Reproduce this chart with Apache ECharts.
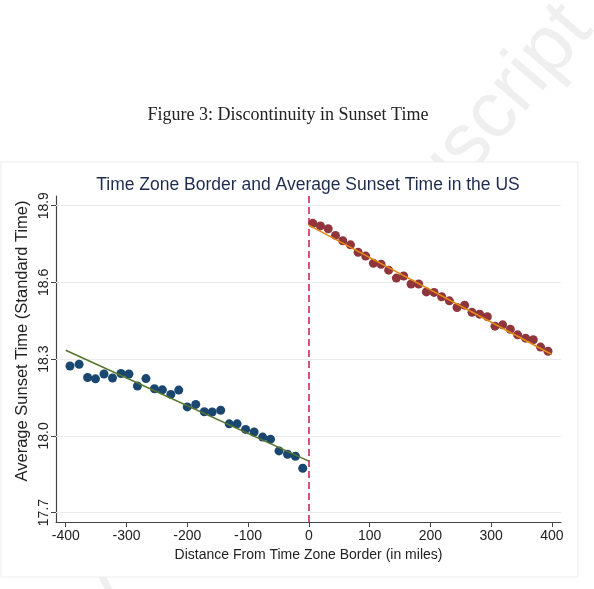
<!DOCTYPE html>
<html>
<head>
<meta charset="utf-8">
<title>Discontinuity in Sunset Time</title>
<script src="https://cdn.jsdelivr.net/npm/echarts@6/dist/echarts.min.js"></script>
<style>
  html, body { margin: 0; padding: 0; background: #fff; }
  #chart { width: 594px; height: 589px; }
</style>
</head>
<body>
<div id="chart"></div>
<script>
// tick labels
const xTicks = [-400, -300, -200, -100, 0, 100, 200, 300, 400]
const yTicks = [17.7, 18.0, 18.3, 18.6, 18.9]

// west of the border (binned means)
const westDist = [-393, -378, -364, -351, -337, -323, -309, -296, -282, -268, -254, -241, -227, -214, -200,
  -186, -172, -159, -145, -131, -118, -104, -90, -76, -63, -49, -35, -22, -10]
const westSunset = [18.273, 18.280, 18.228, 18.223, 18.242, 18.226, 18.244, 18.242, 18.195, 18.224,
  18.184, 18.180, 18.162, 18.179, 18.113, 18.123, 18.094, 18.093, 18.100, 18.047,
  18.047, 18.025, 18.015, 17.995, 17.987, 17.941, 17.928, 17.920, 17.873]

// east of the border
const eastDist = [6.6, 19.2, 31.9, 43.9, 55.9, 68.6, 81.1, 93.6, 106.3, 118.9, 131.4, 144.1, 156.1, 168.3,
  180.8, 193.4, 206.1, 218.6, 231.3, 243.9, 256.4, 268.5, 281.1, 293.8, 306.4, 318.9,
  331.6, 343.6, 356.8, 369.4, 381.4, 393.6]
const eastSunset = [18.831, 18.821, 18.810, 18.784, 18.763, 18.747, 18.718, 18.703, 18.675, 18.671,
  18.648, 18.617, 18.625, 18.594, 18.594, 18.563, 18.561, 18.544, 18.528, 18.502,
  18.511, 18.483, 18.476, 18.466, 18.429, 18.434, 18.417, 18.395, 18.382, 18.376,
  18.347, 18.331]

// linear fits (end points)
const westFitX = [-400, 0]
const westFitY = [18.335, 17.901]
const eastFitX = [0, 400]
const eastFitY = [18.824, 18.318]

const font = "'Liberation Sans', Arial, sans-serif"
const zip = (xs, ys) => xs.map((x, i) => [x, ys[i]])

const chart = echarts.init(document.getElementById("chart"))

chart.setOption({
  backgroundColor: "#fff",
  animation: false,
  textStyle: { fontFamily: font },
  grid: { left: 56, right: 33, top: 196, bottom: 67, containLabel: false },
  graphic: [
    // watermark
    {
      type: "text", x: 335, y: 300, rotation: 49.5 * Math.PI / 180, z: -10,
      style: {
        text: "Accepted Manuscript", fill: "#efefef", font: "80px " + font,
        textAlign: "center", textVerticalAlign: "middle"
      }
    },
    // frame
    {
      type: "rect", shape: { x: 1, y: 162, width: 577, height: 415 }, z: -5,
      style: { fill: "#fff", stroke: "#ededed", lineWidth: 1 }
    },
    {
      type: "text", x: 288, y: 115,
      style: {
        text: "Figure 3: Discontinuity in Sunset Time", fill: "#222",
        font: "18px 'Liberation Serif', 'DejaVu Serif', serif",
        textAlign: "center", textVerticalAlign: "middle"
      }
    },
    {
      type: "text", x: 308, y: 185,
      style: {
        text: "Time Zone Border and Average Sunset Time in the US", fill: "#1d2b4f",
        font: "17.5px " + font, textAlign: "center", textVerticalAlign: "middle"
      }
    },
    {
      type: "text", x: 22, y: 341, rotation: Math.PI / 2,
      style: {
        text: "Average Sunset Time (Standard Time)", fill: "#222",
        font: "16.5px " + font, textAlign: "center", textVerticalAlign: "middle"
      }
    }
  ],
  xAxis: {
    type: "value",
    min: -416,
    max: 415,
    name: "Distance From Time Zone Border (in miles)",
    nameLocation: "middle",
    nameGap: 21,
    nameTextStyle: { color: "#222", fontSize: 14, fontFamily: font },
    axisLine: { onZero: false, lineStyle: { color: "#444", width: 1.2 } },
    axisTick: { show: true, length: 5, customValues: xTicks, lineStyle: { color: "#444" } },
    axisLabel: { customValues: xTicks, margin: 7, color: "#222", fontSize: 14, fontFamily: font },
    splitLine: { show: false }
  },
  yAxis: {
    type: "value",
    min: 17.663,
    max: 18.938,
    axisLine: { show: true, onZero: false, lineStyle: { color: "#444", width: 1.2 } },
    axisTick: { show: true, length: 5, customValues: yTicks, lineStyle: { color: "#444" } },
    axisLabel: {
      customValues: yTicks, rotate: 90, margin: 5, color: "#222", fontSize: 14, fontFamily: font,
      formatter: v => v.toFixed(1)
    },
    splitLine: { show: false }
  },
  series: [
    {
      type: "scatter",
      data: zip(westDist, westSunset),
      symbolSize: 9,
      itemStyle: { color: "#1a476f", opacity: 1 },
      z: 3,
      // gridlines
      markLine: {
        silent: true, symbol: "none", z: 1, animation: false,
        label: { show: false },
        lineStyle: { color: "#ebebeb", width: 1, type: "solid" },
        data: yTicks.map(v => ({ yAxis: v }))
      }
    },
    {
      type: "scatter",
      data: zip(eastDist, eastSunset),
      symbolSize: 9,
      itemStyle: { color: "#90353b", opacity: 1 },
      z: 3,
      // border line
      markLine: {
        silent: true, symbol: "none", z: 1, animation: false,
        label: { show: false },
        lineStyle: { color: "#d0164f", width: 1.5, type: [7, 4] },
        data: [{ xAxis: 0 }]
      }
    },
    {
      type: "line",
      data: zip(westFitX, westFitY),
      showSymbol: false,
      lineStyle: { color: "#55752f", width: 1.6 },
      z: 4
    },
    {
      type: "line",
      data: zip(eastFitX, eastFitY),
      showSymbol: false,
      lineStyle: { color: "#e38a14", width: 1.6 },
      z: 4
    }
  ]
})
</script>
</body>
</html>
